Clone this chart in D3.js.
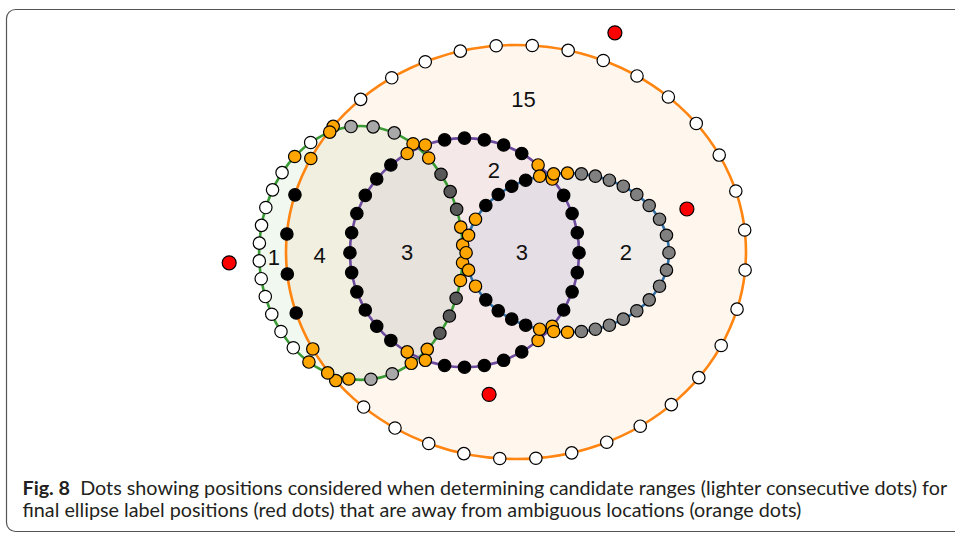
<!DOCTYPE html>
<html><head><meta charset="utf-8">
<script src="https://cdn.jsdelivr.net/npm/d3@7/dist/d3.min.js"></script>
<style>html,body{margin:0;padding:0;background:#fff;} svg{display:block;}</style>
</head><body>
<script>
// ---------------- data ----------------
const setNames   = ["orange", "green", "purple", "blue"];
const ellipseCx  = [0, -67.4, -22.4, 22.4];
const ellipseCy  = [0, 0.4, 0.3, 0.3];
const ellipseRx  = [100, 44.3, 49.8, 44.1];
const ellipseRy  = [90, 55.2, 49.8, 34.6];
const strokeColors = ["#ff8410", "#3a9b35", "#6c4a9e", "#2f6fa6"];
const fillColors   = ["#ff7f0e", "#2ca02c", "#9467bd", "#1f77b4"];
const fillOpacity  = [0.07, 0.07, 0.09, 0.07];

// dot positions along each ellipse (polar angle, degrees) and dot kind
// w = white, k = black, o = orange (ambiguous), l = light grey, d = dark grey, g = grey
const orangeDotAngles = [4.5,14.5,24.5,34.5,44.5,54.5,64.5,74.5,84.5,94.5,104.5,114.5,124.5,134.5,144.5,154.5,164.5,174.5,
                         184.5,194.5,204.5,214.5,224.5,234.5,244.5,254.5,264.5,274.5,284.5,294.5,304.5,314.5,324.5,334.5,344.5,354.5];
const orangeDotTypes  = ["w","w","w","w","w","w","w","w","w","w","w","w","w","w","o","o","k","k",
                         "k","k","o","o","w","w","w","w","w","w","w","w","w","w","w","w","w","w"];
const greenDotAngles  = [5.5,15.5,25.5,35.5,45.5,55.5,65.5,75.5,85.5,95.5,105.5,115.5,125.5,135.5,145.5,155.5,165.5,175.5,
                         185.5,195.5,205.5,215.5,225.5,235.5,245.5,255.5,265.5,275.5,285.5,295.5,305.5,315.5,325.5,335.5,345.5,355.5];
const greenDotTypes   = ["o","o","d","d","d","o","o","l","l","o","o","o","w","w","w","w","w","w",
                         "w","w","w","w","w","o","w","o","l","l","l","o","o","d","d","d","o","o"];
const purpleDotAngles = [0,10,20,30,40,50,60,70,80,90,100,110,120,130,140,150,160,170,
                         180,190,200,210,220,230,240,250,260,270,280,290,300,310,320,330,340,350];
const purpleDotTypes  = ["k","k","k","k","o","o","k","k","k","k","k","o","o","k","k","k","k","k",
                         "k","k","k","k","k","k","o","o","k","k","k","k","k","o","o","k","k","k"];
const blueDotAngles   = [0,10,20,30,40,50,60,70,80,90,100,110,120,130,140,150,160,170,
                         180,190,200,210,220,230,240,250,260,270,280,290,300,310,320,330,340,350];
const blueDotTypes    = ["g","g","g","g","g","g","g","g","g","o","o","o","k","k","k","k","o","o",
                         "o","o","o","k","k","k","k","o","o","o","g","g","g","g","g","g","g","g"];
const dotKindColors = {w: "#ffffff", k: "#000000", o: "#ffa500", l: "#a8a8a8", d: "#585858", g: "#808080"};

// region labels
const labelTexts = ["15", "2", "3", "4", "1", "3", "2"];
const labelX     = [3.3, -9.6, -47.3, -85.4, -105.3, 2.6, 47.8];
const labelY     = [-66.3, -35.3, 0.3, 1.4, 2.2, 0.2, 0.4];

// final label positions (red dots)
const redX = [-124.7, 43.0, 74.3, -11.7];
const redY = [4.7, -95.3, -18.7, 61.9];

const captionBold = "Fig. 8";
const captionLine1 = "Dots showing positions considered when determining candidate ranges (lighter consecutive dots) for";
const captionLine2 = "final ellipse label positions (red dots) that are away from ambiguous locations (orange dots)";

// ---------------- drawing ----------------
const W = 955, H = 534;
const svg = d3.select("body").append("svg").attr("width", W).attr("height", H);

svg.append("rect").attr("x", 6.5).attr("y", 9.5).attr("width", 970).attr("height", 522)
  .attr("rx", 9).attr("fill", "none").attr("stroke", "#555").attr("stroke-width", 1.2);

const x = d3.scaleLinear().domain([-100, 100]).range([286, 746]);
const y = d3.scaleLinear().domain([-90, 90]).range([45, 459]);
const sx = v => x(v) - x(0);
const sy = v => y(v) - y(0);

const ellipses = setNames.map((n, i) => ({
  name: n, cx: ellipseCx[i], cy: ellipseCy[i], rx: ellipseRx[i], ry: ellipseRy[i],
  stroke: strokeColors[i], fill: fillColors[i], fo: fillOpacity[i]
}));

const g = svg.append("g");
g.selectAll("ellipse.fill").data(ellipses).join("ellipse")
  .attr("class", "fill")
  .attr("cx", d => x(d.cx)).attr("cy", d => y(d.cy))
  .attr("rx", d => sx(d.rx)).attr("ry", d => sy(d.ry))
  .attr("fill", d => d.fill).attr("fill-opacity", d => d.fo).attr("stroke", "none");

g.selectAll("ellipse.edge").data(ellipses).join("ellipse")
  .attr("class", "edge")
  .attr("cx", d => x(d.cx)).attr("cy", d => y(d.cy))
  .attr("rx", d => sx(d.rx)).attr("ry", d => sy(d.ry))
  .attr("fill", "none").attr("stroke", d => d.stroke).attr("stroke-width", 2.6);

function dotsOn(e, angles, types) {
  return angles.map((a, i) => {
    const t = a * Math.PI / 180;
    const c = Math.cos(t), s = Math.sin(t);
    const r = 1 / Math.sqrt((c * c) / (e.rx * e.rx) + (s * s) / (e.ry * e.ry));
    return {px: e.cx + r * c, py: e.cy + r * s, kind: types[i]};
  });
}
const allDots = [].concat(
  dotsOn(ellipses[0], orangeDotAngles, orangeDotTypes),
  dotsOn(ellipses[1], greenDotAngles, greenDotTypes),
  dotsOn(ellipses[2], purpleDotAngles, purpleDotTypes),
  dotsOn(ellipses[3], blueDotAngles, blueDotTypes)
);
g.selectAll("circle.dot").data(allDots).join("circle")
  .attr("class", "dot")
  .attr("cx", d => x(d.px)).attr("cy", d => y(d.py)).attr("r", 6.2)
  .attr("fill", d => dotKindColors[d.kind]).attr("stroke", "#000").attr("stroke-width", 1.2);

const reds = redX.map((v, i) => ({px: v, py: redY[i]}));
g.selectAll("circle.red").data(reds).join("circle")
  .attr("class", "red")
  .attr("cx", d => x(d.px)).attr("cy", d => y(d.py)).attr("r", 7)
  .attr("fill", "#ff0000").attr("stroke", "#000").attr("stroke-width", 1.2);

const labels = labelTexts.map((t, i) => ({t, px: labelX[i], py: labelY[i]}));
g.selectAll("text.lab").data(labels).join("text")
  .attr("class", "lab")
  .attr("x", d => x(d.px)).attr("y", d => y(d.py))
  .attr("text-anchor", "middle").attr("dominant-baseline", "central")
  .attr("font-family", "'Liberation Sans', Arial, Helvetica, sans-serif")
  .attr("font-size", 22).attr("fill", "#111")
  .text(d => d.t);

// caption
const capX0 = 22.5, capX1 = 948, gap = 10;
const cap = svg.append("g").attr("font-family", "Lato, 'Open Sans', sans-serif").attr("fill", "#231f20");
const tB = cap.append("text").attr("x", capX0).attr("y", 494.5).attr("font-size", 16)
  .attr("font-weight", "bold").text(captionBold);
const t1 = cap.append("text").attr("y", 494.5).attr("font-size", 16).text(captionLine1);
const t2 = cap.append("text").attr("x", capX0).attr("y", 517).attr("font-size", 16).text(captionLine2);
const wB = tB.node().getComputedTextLength();
const w1 = t1.node().getComputedTextLength();
const fs = 16 * (capX1 - capX0 - gap) / (wB + w1);
tB.attr("font-size", fs);
t1.attr("font-size", fs).attr("x", capX0 + wB * fs / 16 + gap);
t2.attr("font-size", fs);
</script>
</body></html>
